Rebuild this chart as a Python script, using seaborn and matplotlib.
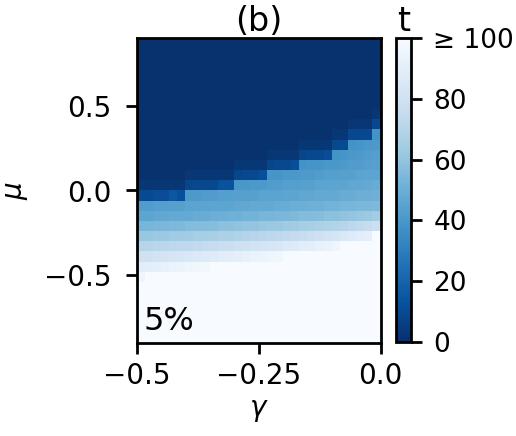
import numpy as np
import pandas as pd
import matplotlib
matplotlib.use("Agg")
import matplotlib.pyplot as plt
import seaborn as sns

# ---- axis ranges (grid of 30 x 30 cells) ----
gamma_min, gamma_max = -0.5, 0.0
mu_min, mu_max = -0.9, 0.9
n_gamma, n_mu = 30, 30

x_ticks = [-0.5, -0.25, 0.0]
x_tick_labels = ["\u22120.5", "\u22120.25", "0.0"]
y_ticks = [0.5, 0.0, -0.5]
y_tick_labels = ["0.5", "0.0", "\u22120.5"]
cbar_ticks = [0, 20, 40, 60, 80, 100]
cbar_tick_labels = ["0", "20", "40", "60", "80", "\u2265 100"]

# ---- values t, rows from top (mu = 0.9) to bottom (mu = -0.9), columns gamma -0.5 -> 0 ----
row_00 = [1] * 30
row_01 = [1] * 30
row_02 = [1] * 30
row_03 = [1] * 30
row_04 = [1] * 30
row_05 = [1] * 30
row_06 = [1] * 30
row_07 = [1] * 29 + [3]
row_08 = [1] * 26 + [3, 3, 3, 9]
row_09 = [1] * 24 + [3, 3, 9, 9, 9, 38]
row_10 = [1] * 20 + [3, 3, 3, 3, 9, 10, 38, 39, 40, 41]
row_11 = [1] * 16 + [3, 3, 3, 3, 8, 9, 9, 11, 38, 39, 40, 41, 42, 43]
row_12 = [1] * 12 + [3, 3, 3, 3, 8, 9, 9, 12,
                     38, 39, 39, 40, 40, 41, 42, 42, 43, 44]
row_13 = [1] * 6 + [3, 3, 3, 3, 3, 3, 8, 9, 9, 12,
                    39, 39, 40, 40, 41, 41, 42, 43, 43, 44, 44, 45, 46, 46]
row_14 = [3, 3, 3, 3, 3, 3, 8, 9, 9, 9, 13, 13,
          40, 40, 41, 41, 42, 42, 43, 43, 44, 44, 45, 45, 46, 46, 47, 47, 48, 49]
row_15 = [10, 10, 11, 11, 15, 12,
          41, 41, 42, 42, 43, 43, 44, 44, 44, 45, 45, 45, 46, 46, 47, 47, 48, 48,
          48, 49, 49, 50, 50, 51]
row_16 = [42, 42, 43, 43, 44, 44, 45, 45, 45, 46, 46, 46, 47, 47, 48,
          48, 48, 49, 49, 50, 50, 51, 51, 52, 52, 53, 53, 54, 54, 55]
row_17 = [46, 46, 47, 47, 48, 48, 48, 49, 49, 50, 50, 51, 51, 52, 52,
          53, 53, 54, 54, 55, 56, 56, 57, 58, 58, 59, 60, 61, 62, 64]
row_18 = [53, 53, 54, 54, 55, 55, 56, 56, 57, 57, 58, 58, 59, 60, 60,
          61, 62, 62, 63, 64, 65, 66, 67, 68, 69, 70, 72, 74, 76, 78]
row_19 = [61, 61, 62, 62, 63, 63, 64, 65, 65, 66, 67, 67, 68, 69, 70,
          71, 72, 73, 74, 75, 76, 78, 79, 81, 83, 85, 87, 89, 91, 100]
row_20 = [70, 70, 71, 71, 72, 73, 73, 74, 75, 76, 77, 78, 79, 80, 81,
          82, 83, 84, 86, 87, 89, 90, 92, 93, 95, 100, 100, 100, 100, 100]
row_21 = [80, 80, 81, 82, 83, 84, 85, 86, 87, 88, 89, 90, 91, 92, 93,
          94, 95, 96] + [100] * 12
row_22 = [89, 90, 91, 92, 93, 94, 95, 96, 97] + [100] * 21
row_23 = [95] + [100] * 29
row_24 = [100] * 30
row_25 = [100] * 30
row_26 = [100] * 30
row_27 = [100] * 30
row_28 = [100] * 30
row_29 = [100] * 30

t_rows = [row_00, row_01, row_02, row_03, row_04, row_05, row_06, row_07,
          row_08, row_09, row_10, row_11, row_12, row_13, row_14, row_15,
          row_16, row_17, row_18, row_19, row_20, row_21, row_22, row_23,
          row_24, row_25, row_26, row_27, row_28, row_29]

d_gamma = (gamma_max - gamma_min) / n_gamma
d_mu = (mu_max - mu_min) / n_mu
gamma_centers = [round(gamma_min + (j + 0.5) * d_gamma, 4) for j in range(n_gamma)]
mu_centers = [round(mu_max - (i + 0.5) * d_mu, 4) for i in range(n_mu)]
df = pd.DataFrame(np.array(t_rows, dtype=float), index=mu_centers, columns=gamma_centers)

FS = 20
plt.rcParams['font.family'] = ['DejaVu Sans']
plt.rcParams['mathtext.fontset'] = 'dejavusans'

fig = plt.figure(figsize=(5.16, 4.36), dpi=100)
ax = fig.add_axes([136.5 / 516, (436 - 343) / 436, 244 / 516, 305 / 436])
cax = fig.add_axes([396 / 516, (436 - 342) / 436, 15 / 516, 304 / 436])

sns.heatmap(df, ax=ax, cmap="Blues_r", vmin=0, vmax=100, cbar_ax=cax,
            xticklabels=False, yticklabels=False, linewidths=0)

# numeric tick positions in cell-index coordinates
ax.set_xticks([(v - gamma_min) / d_gamma for v in x_ticks])
ax.set_xticklabels(x_tick_labels)
ax.set_yticks([(mu_max - v) / d_mu for v in y_ticks])
ax.set_yticklabels(y_tick_labels, rotation=0)
ax.tick_params(axis='both', length=8, width=2, labelsize=FS, direction='out',
               bottom=True, left=True, top=False, right=False)
ax.tick_params(axis='y', pad=10)
ax.tick_params(axis='x', pad=6)
for sp in ax.spines.values():
    sp.set_visible(True)
    sp.set_linewidth(2)
    sp.set_color('black')

ax.set_xlabel(r"$\gamma$", fontsize=FS, labelpad=4)
ax.set_ylabel(r"$\mu$", fontsize=FS, labelpad=10)
ax.set_title("(b)", fontsize=24, pad=4)
ax.text(0.03, 0.02, "5%", transform=ax.transAxes, fontsize=23, ha='left', va='bottom')

cbar = ax.collections[0].colorbar
cbar.set_ticks(cbar_ticks)
cbar.set_ticklabels(cbar_tick_labels)
cbar.outline.set_visible(True)
cbar.outline.set_linewidth(2)
cbar.outline.set_edgecolor('black')
cax.tick_params(length=8, width=2, labelsize=19, pad=8)
cax.set_title("t", fontsize=24, pad=0)

fig.savefig("out.png", dpi=100)
